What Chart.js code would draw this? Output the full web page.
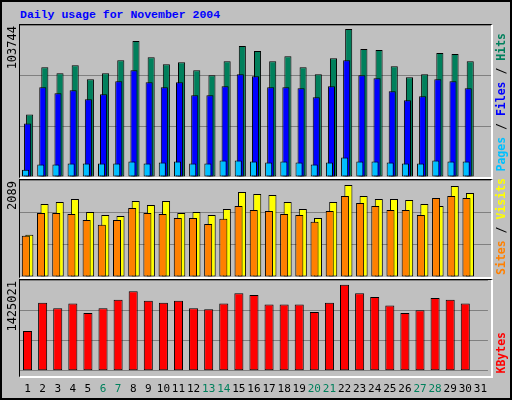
<!DOCTYPE html>
<html><head><meta charset="utf-8">
<script src="https://cdn.jsdelivr.net/npm/chart.js@4/dist/chart.umd.min.js"></script>
<style>
body{margin:0;background:#fff}
#outer{position:absolute;left:0;top:0;width:508px;height:396px;background:#C0C0C0;border:2px solid #000;overflow:hidden}
.cw{position:absolute;left:18px;width:471px}
.frame{position:absolute;left:17px;width:471px;border-top:1px solid #000;border-left:1px solid #000;border-right:2px solid #fff;border-bottom:2px solid #fff;pointer-events:none}
.vt{position:absolute;writing-mode:vertical-rl;transform:rotate(180deg);font-family:"DejaVu Sans Mono",monospace;font-size:12px;white-space:nowrap}
#title{position:absolute;left:18px;top:6px;font-family:"Liberation Mono",monospace;font-weight:bold;font-size:11.5px;color:#0000FF}
</style></head><body>
<div id="outer">
<div id="title">Daily usage for November 2004</div>
<div class="cw" style="top:23px;height:152px"><canvas id="c1"></canvas></div>
<div class="cw" style="top:178px;height:97px"><canvas id="c2"></canvas></div>
<div class="cw" style="top:278px;height:120px"><canvas id="c3"></canvas></div>
<div class="frame" style="top:22px;height:152px"></div>
<div class="frame" style="top:177px;height:97px"></div>
<div class="frame" style="top:277px;height:96px"></div>
<div class="vt" id="l1" style="left:3px;top:24px"></div>
<div class="vt" id="l2" style="left:3px;top:179px"></div>
<div class="vt" id="l3" style="left:3px;top:279px"></div>
<div class="vt" style="left:492px;bottom:226px;font-weight:bold;font-size:11.5px"><span style="color:#00C0FF">Pages</span> / <span style="color:#0000FF">Files</span> / <span style="color:#00805C">Hits</span></div>
<div class="vt" style="left:492px;bottom:123px;font-weight:bold;font-size:11.5px"><span style="color:#FF8000">Sites</span> / <span style="color:#FFFF00">Visits</span></div>
<div class="vt" style="left:492px;bottom:24px;font-weight:bold;font-size:11.5px;color:#FF0000">KBytes</div>
</div>
<script>
const days = Array.from({length:31},(_, i)=>String(i+1));
const weekendDays = ["6","7","13","14","20","21","27","28"];
const hits = [43889,76982,72757,78390,68532,72757,81910,95288,84023,79094,80502,74869,71349,81206,91768,88247,81206,84727,76982,72053,83319,103744,89655,88951,77686,69941,72053,86839,86135,81206];
const files = [37552,62900,58675,60787,54450,57971,67124,74869,66420,62900,66420,57267,57267,63604,72053,70645,62900,62900,62196,55859,63604,81910,71349,69237,60083,53746,56563,68532,67124,62196];
const pages = [5163,8684,8684,9388,9388,9388,9388,10796,9388,10092,10796,9388,9388,11500,11500,10796,10092,10796,10092,8684,10092,13613,10796,10796,10092,9388,9388,11500,10796,10796];
const visits = [958,1659,1704,1772,1478,1410,1387,1727,1636,1727,1455,1478,1410,1546,1930,1885,1862,1704,1546,1342,1704,2089,1840,1772,1772,1749,1659,1614,2066,1908];
const sites = [935,1455,1455,1433,1297,1184,1297,1568,1455,1433,1342,1342,1206,1320,1614,1523,1500,1433,1410,1252,1500,1840,1681,1614,1523,1523,1410,1795,1840,1795];
const kbytes = [660527,1128617,1035000,1113014,956984,1035000,1175426,1315853,1159823,1128617,1159823,1035000,1019396,1113014,1284647,1253441,1097411,1097411,1097411,972587,1128617,1425021,1284647,1222235,1081808,956984,1003793,1206632,1175426,1113014];

const maxHits = Math.max(...hits), maxVisits = Math.max(...visits), maxK = Math.max(...kbytes);
document.getElementById('l1').textContent = maxHits;
document.getElementById('l2').textContent = maxVisits;
document.getElementById('l3').textContent = maxK;

function yAxis(max){
  return {min:0,max:max,afterFit:s=>{s.width=0;},
    ticks:{display:false,stepSize:max/3},
    grid:{color:'#808080',drawTicks:false,lineWidth:1},border:{display:false}};
}
function opts(max, showX){
  return {responsive:true,maintainAspectRatio:false,animation:false,
    layout:{padding:0},
    plugins:{legend:{display:false},tooltip:{enabled:false}},
    scales:{
      x:{display:showX,grid:{display:false},border:{display:false},
        ticks:{font:{family:'DejaVu Sans Mono',size:11},padding:4,maxRotation:0,autoSkip:false,
          color:c=>weekendDays.includes(days[c.index])?'#00805C':'#000'}},
      y:yAxis(max)}};
}
const bd = {borderColor:'#000',borderWidth:1,borderSkipped:false};
new Chart(document.getElementById('c1'),{type:'bar',
  data:{labels:days,datasets:[
    {data:hits,order:3,backgroundColor:'#00805C',...bd,categoryPercentage:0.4,barPercentage:3.5},
    {data:files,order:2,backgroundColor:'#0000FF',...bd,categoryPercentage:0.4,barPercentage:3.5},
    {data:pages,order:1,backgroundColor:'#00C0FF',...bd,categoryPercentage:0.4,barPercentage:3.5}]},
  options:opts(maxHits*152/148,false)});
new Chart(document.getElementById('c2'),{type:'bar',
  data:{labels:days,datasets:[
    {data:visits,order:2,backgroundColor:'#FFFF00',...bd,categoryPercentage:0.46,barPercentage:2.3},
    {data:sites,order:1,backgroundColor:'#FF8000',...bd,categoryPercentage:0.46,barPercentage:2.3}]},
  options:opts(maxVisits*97/92,false)});
new Chart(document.getElementById('c3'),{type:'bar',
  data:{labels:days,datasets:[
    {data:kbytes,backgroundColor:'#FF0000',...bd,categoryPercentage:1,barPercentage:0.6}]},
  options:opts(maxK*96/91,true)});
</script>
</body></html>
